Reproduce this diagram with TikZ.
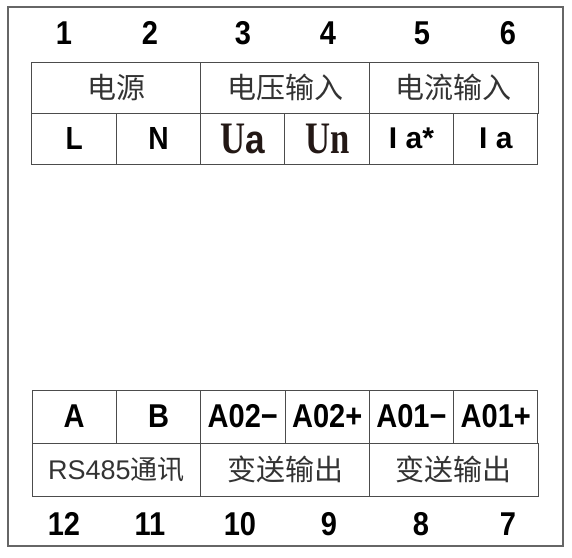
\documentclass[tikz,border=0pt]{standalone}
\usepackage{fontspec}
\setmainfont{Liberation Sans}
\newfontfamily\cjk{Noto Sans CJK SC}
\newfontfamily\termfont[FakeStretch=0.88]{Liberation Sans}
\newfontfamily\slabfont[FakeStretch=0.77]{Liberation Serif Bold}
\definecolor{ink}{RGB}{35,24,21}
\usetikzlibrary{positioning}
\tikzset{
  cell/.style = {draw=black!70, line width=1pt, minimum width=84.33pt, minimum height=51pt,
    inner sep=0pt, outer sep=0pt, font=\termfont\bfseries\fontsize{32}{32}\selectfont},
  head/.style = {cell, minimum width=168.67pt, text=black!80, font=\cjk\fontsize{29}{29}\selectfont},
  slab/.style = {cell, text=ink, font=\slabfont\fontsize{45}{45}\selectfont},
  lowcell/.style = {cell, minimum height=53pt, font=\termfont\bfseries\fontsize{33}{33}\selectfont},
  lowhead/.style = {head, minimum height=53pt},
  pin/.style = {font=\termfont\bfseries\fontsize{33}{33}\selectfont}
}

\begin{document}
\begin{tikzpicture}[x=1pt,y=-1pt]
  \useasboundingbox (0,0) rectangle (572,557);
  \draw[black!60, line width=1.5pt] (8,7) rectangle (563,546);

  % top block
  \node[head] (pwr) at (116.33,87.5) {电源};
  \node[head, right=0pt of pwr] (volt) {电压输入};
  \node[head, right=0pt of volt] (curr) {电流输入};
  \node[cell, anchor=north west] (tL) at (pwr.south west) {L};
  \node[cell, right=0pt of tL] (tN) {N};
  \node[slab, right=0pt of tN] (tUa) {U{\termfont\bfseries\fontsize{40}{40}\selectfont a}};
  \node[slab, right=0pt of tUa] (tUn) {Un};
  \node[cell, right=0pt of tUn, font=\bfseries\fontsize{30}{30}\selectfont] (tIas) {I a*};
  \node[cell, right=0pt of tIas, font=\bfseries\fontsize{30}{30}\selectfont] (tIa) {I a};

  % bottom block
  \node[lowcell] (bA) at (74.17,416.5) {A};
  \node[lowcell, right=0pt of bA] (bB) {B};
  \node[lowcell, right=0pt of bB] (bAOtm) {A02−};
  \node[lowcell, right=0pt of bAOtm] (bAOtp) {A02+};
  \node[lowcell, right=0pt of bAOtp] (bAOom) {A01−};
  \node[lowcell, right=0pt of bAOom] (bAOop) {A01+};
  \node[lowhead, anchor=north west] (com) at (bA.south west)
    {\fontsize{27}{27}\selectfont\normalfont RS485\cjk 通讯};
  \node[lowhead, right=0pt of com] (outtwo) {变送输出};
  \node[lowhead, right=0pt of outtwo] (outone) {变送输出};

  % terminal numbers
  \foreach \x/\n in {64/1,150/2,243/3,328/4,422/5,508/6}
    \node[pin] (top\n) at (\x,33) {\n};
  \foreach \x/\n in {64/12,150/11,240/10,329/9,421/8,508/7}
    \node[pin] (bot\n) at (\x,524) {\n};
\end{tikzpicture}
\end{document}
